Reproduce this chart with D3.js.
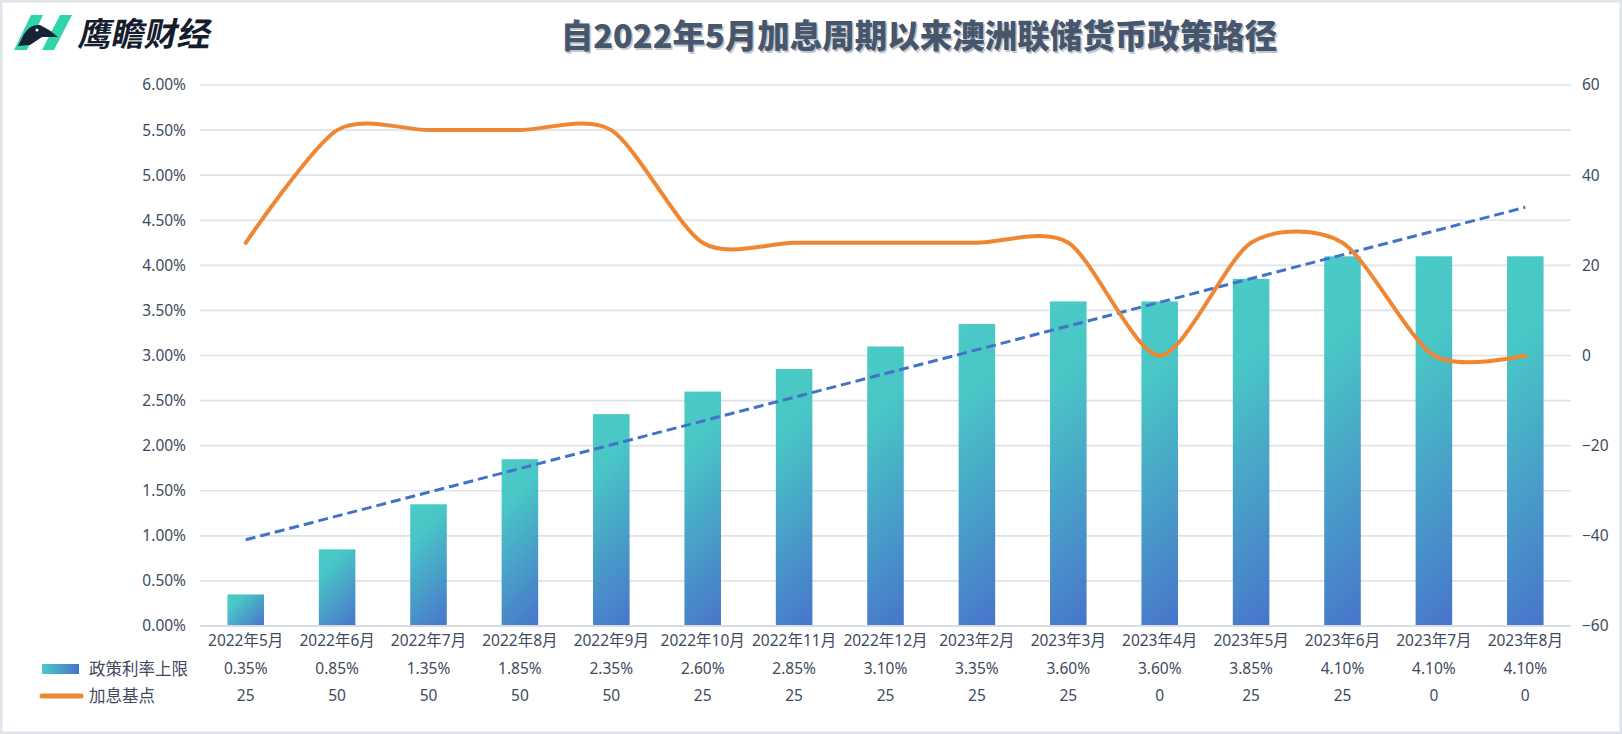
<!DOCTYPE html>
<html><head><meta charset="utf-8">
<script src="https://cdn.jsdelivr.net/npm/d3@7/dist/d3.min.js"></script>
<style>
html,body{margin:0;padding:0;background:#fff;}
svg{display:block;}
text{font-family:"Noto Sans","Noto Sans CJK SC",sans-serif;}
</style></head>
<body>
<svg id="chart" width="1622" height="734"></svg>
<script>
const categories = ["2022年5月","2022年6月","2022年7月","2022年8月","2022年9月","2022年10月","2022年11月","2022年12月","2023年2月","2023年3月","2023年4月","2023年5月","2023年6月","2023年7月","2023年8月"];
const rateCap = [0.35,0.85,1.35,1.85,2.35,2.60,2.85,3.10,3.35,3.60,3.60,3.85,4.10,4.10,4.10];
const hikeBp = [25,50,50,50,50,25,25,25,25,25,0,25,25,0,0];
const leftTicks = [0,0.5,1,1.5,2,2.5,3,3.5,4,4.5,5,5.5,6];
const rightTicks = [-60,-40,-20,0,20,40,60];
const seriesNames = ["政策利率上限","加息基点"];
const titleText = "自2022年5月加息周期以来澳洲联储货币政策路径";
const brandText = "鹰瞻财经";

const W = 1622, H = 734;
const plot = {left:200, right:1571, top:85, bottom:626};
const svg = d3.select("#chart");
const textColor = "#3e4b5e";

// frame
svg.append("rect").attr("x",1).attr("y",1).attr("width",W-2).attr("height",H-2)
  .attr("fill","#fff").attr("stroke","#dfe3ea").attr("stroke-width",3);

const defs = svg.append("defs");
const g2 = defs.append("linearGradient").attr("id","legGrad")
  .attr("x1","0").attr("y1","0").attr("x2","1").attr("y2","0");
g2.append("stop").attr("offset","0").attr("stop-color","#4acbc6");
g2.append("stop").attr("offset","1").attr("stop-color","#4874cb");

const x = d3.scaleBand().domain(categories).range([plot.left, plot.right]).paddingInner(0.6).paddingOuter(0.3);
const xc = d => x(d) + x.bandwidth()/2;
const yL = d3.scaleLinear().domain([0,6]).range([plot.bottom, plot.top]);
const yR = d3.scaleLinear().domain([-60,60]).range([plot.bottom, plot.top]);

// per-bar 45° gradients
categories.forEach((c,i)=>{
  const bx = x(c), by = yL(rateCap[i]), w = x.bandwidth(), h = yL(0)-yL(rateCap[i]);
  const k = (w+h)/2;
  const g = defs.append("linearGradient").attr("id","barGrad"+i).attr("gradientUnits","userSpaceOnUse")
    .attr("x1",bx).attr("y1",by).attr("x2",bx+k).attr("y2",by+k);
  g.append("stop").attr("offset","0").attr("stop-color","#4acbc6");
  g.append("stop").attr("offset","0.25").attr("stop-color","#49c6c6");
  g.append("stop").attr("offset","1").attr("stop-color","#4874cb");
});

// gridlines
svg.append("g").selectAll("line").data(leftTicks).join("line")
  .attr("x1",plot.left).attr("x2",plot.right)
  .attr("y1",d=>yL(d)).attr("y2",d=>yL(d))
  .attr("stroke","#dfe2e7").attr("stroke-width",1.6);

// left axis
const axL = d3.axisLeft(yL).tickValues(leftTicks).tickFormat(d=>d.toFixed(2)+"%").tickSize(0).tickPadding(14);
const gL = svg.append("g").attr("transform",`translate(${plot.left},0)`).call(axL);
gL.select(".domain").remove();
gL.selectAll("text").attr("fill",textColor).style("font-size","15.5px");

// right axis
const axR = d3.axisRight(yR).tickValues(rightTicks).tickFormat(d3.format("d")).tickSize(0).tickPadding(11);
const gR = svg.append("g").attr("transform",`translate(${plot.right},0)`).call(axR);
gR.select(".domain").remove();
gR.selectAll("text").attr("fill",textColor).style("font-size","15.5px");

// bars
svg.append("g").selectAll("rect").data(categories).join("rect")
  .attr("x",d=>x(d)).attr("width",x.bandwidth())
  .attr("y",(d,i)=>yL(rateCap[i])).attr("height",(d,i)=>yL(0)-yL(rateCap[i]))
  .attr("fill",(d,i)=>`url(#barGrad${i})`);

// baseline
svg.append("line").attr("x1",plot.left).attr("x2",plot.right)
  .attr("y1",yL(0)).attr("y2",yL(0)).attr("stroke","#d9dce2").attr("stroke-width",2);

// linear trendline of rate series
const n = rateCap.length;
const mx = d3.mean(d3.range(n)), my = d3.mean(rateCap);
const slope = d3.sum(rateCap,(v,i)=>(i-mx)*(v-my)) / d3.sum(d3.range(n),i=>(i-mx)*(i-mx));
const icpt = my - slope*mx;
svg.append("line")
  .attr("x1",xc(categories[0])).attr("y1",yL(icpt))
  .attr("x2",xc(categories[n-1])).attr("y2",yL(icpt+slope*(n-1)))
  .attr("stroke","#4472c4").attr("stroke-width",3).attr("stroke-dasharray","10,5");

// smooth line
const line = d3.line().x((d,i)=>xc(categories[i])).y(d=>yR(d)).curve(d3.curveCardinal.tension(0.2));
svg.append("path").datum(hikeBp).attr("d",line).attr("fill","none")
  .attr("stroke","#ef8632").attr("stroke-width",4).attr("stroke-linecap","round");

// category labels (data table header)
svg.append("g").selectAll("text").data(categories).join("text")
  .attr("x",d=>xc(d)).attr("y",641).attr("dy","0.35em").attr("text-anchor","middle")
  .attr("fill",textColor).style("font-size","15.5px").text(d=>d);

// data table rows
svg.append("g").selectAll("text").data(rateCap).join("text")
  .attr("x",(d,i)=>xc(categories[i])).attr("y",669).attr("dy","0.35em").attr("text-anchor","middle")
  .attr("fill",textColor).style("font-size","15.5px").text(d=>d.toFixed(2)+"%");
svg.append("g").selectAll("text").data(hikeBp).join("text")
  .attr("x",(d,i)=>xc(categories[i])).attr("y",696).attr("dy","0.35em").attr("text-anchor","middle")
  .attr("fill",textColor).style("font-size","15.5px").text(d=>d);

// legend keys
svg.append("rect").attr("x",42).attr("y",664).attr("width",37).attr("height",10).attr("fill","url(#legGrad)");
svg.append("line").attr("x1",42).attr("x2",81).attr("y1",696).attr("y2",696)
  .attr("stroke","#ef8632").attr("stroke-width",5).attr("stroke-linecap","round");
svg.append("text").attr("x",89).attr("y",669).attr("dy","0.35em").attr("fill",textColor)
  .style("font-size","16.5px").text(seriesNames[0]);
svg.append("text").attr("x",89).attr("y",696).attr("dy","0.35em").attr("fill",textColor)
  .style("font-size","16.5px").text(seriesNames[1]);

// title with shadow
svg.append("text").attr("x",920.5).attr("y",38.5).attr("dy","0.35em").attr("text-anchor","middle")
  .attr("fill","#c3c6cb").style("font-family","'Noto Sans CJK SC'").style("font-weight","900")
  .style("font-size","32.5px").text(titleText);
svg.append("text").attr("x",919).attr("y",37).attr("dy","0.35em").attr("text-anchor","middle")
  .attr("fill","#46566c").style("font-family","'Noto Sans CJK SC'").style("font-weight","900")
  .style("font-size","32.5px").text(titleText);

// logo
const logo = svg.append("g");
logo.append("path").attr("d","M31,15 L43,15 L27,50 L14,50 Z").attr("fill","#2fd5a9");
logo.append("path").attr("d","M60,15 L72,15 L54,50 L42,50 Z").attr("fill","#2fd5a9");
logo.append("path").attr("d","M38,31 L60,31 L57,37 L44,37 Z").attr("fill","#2fd5a9");
logo.append("path").attr("d","M18,46 L24,34 Q30,24 40,25 L49,30 L58,37 L42,37 L30,45 Z").attr("fill","#162236");
logo.append("circle").attr("cx",37).attr("cy",30).attr("r",1.6).attr("fill","#fff");
svg.append("text").attr("x",80).attr("y",34).attr("dy","0.35em")
  .attr("transform","translate(7,0) skewX(-12)")
  .attr("fill","#141c2e").style("font-family","'Noto Sans CJK SC'").style("font-weight","700")
  .style("font-size","33px").text(brandText);
</script>
</body></html>
